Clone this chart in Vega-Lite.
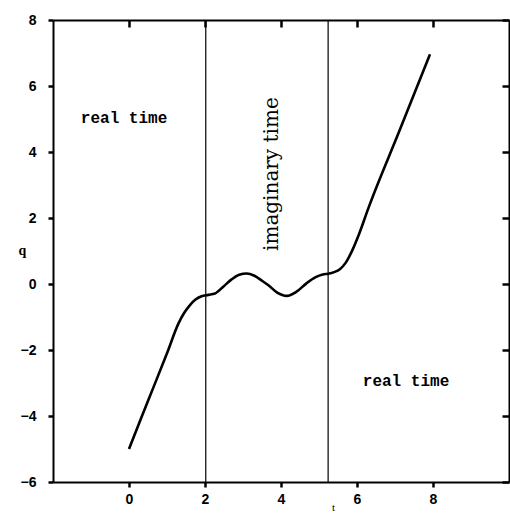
{
  "$schema": "https://vega.github.io/schema/vega-lite/v6.json",
  "width": 456,
  "height": 462,
  "autosize": "none",
  "padding": {"left": 53, "top": 20, "right": 1, "bottom": 32},
  "background": "white",
  "config": {
    "view": {"stroke": null},
    "axis": {
      "grid": false,
      "domainColor": "black",
      "domainWidth": 2,
      "labelFont": "Liberation Sans",
      "labelFontWeight": "bold",
      "labelFontSize": 14,
      "labelColor": "black"
    }
  },
  "datasets": {
    "curve": [
      {"t": 0.0, "q": -5.0},
      {"t": 0.3, "q": -4.12},
      {"t": 0.64, "q": -3.14},
      {"t": 1.0, "q": -2.1},
      {"t": 1.3, "q": -1.2},
      {"t": 1.45, "q": -0.88},
      {"t": 1.61, "q": -0.63},
      {"t": 1.75, "q": -0.47},
      {"t": 1.91, "q": -0.37},
      {"t": 2.09, "q": -0.33},
      {"t": 2.26, "q": -0.29},
      {"t": 2.48, "q": -0.08},
      {"t": 2.7, "q": 0.14},
      {"t": 2.9, "q": 0.28},
      {"t": 3.1, "q": 0.32},
      {"t": 3.3, "q": 0.25},
      {"t": 3.5, "q": 0.1},
      {"t": 3.67, "q": -0.04},
      {"t": 3.9, "q": -0.26},
      {"t": 4.15, "q": -0.36},
      {"t": 4.4, "q": -0.24},
      {"t": 4.67, "q": 0.02},
      {"t": 4.9, "q": 0.2},
      {"t": 5.1, "q": 0.29},
      {"t": 5.24, "q": 0.31},
      {"t": 5.4, "q": 0.36},
      {"t": 5.55, "q": 0.45},
      {"t": 5.7, "q": 0.64},
      {"t": 5.86, "q": 0.98},
      {"t": 6.05, "q": 1.5},
      {"t": 6.3, "q": 2.3},
      {"t": 7.13, "q": 4.68},
      {"t": 7.92, "q": 6.96}
    ],
    "dividers": [
      {"t": 2.02},
      {"t": 5.24}
    ],
    "labels": [
      {"t": -0.13, "q": 5.03, "label": "real time"},
      {"t": 7.29, "q": -2.94, "label": "real time"}
    ],
    "vlabels": [
      {"t": 3.76, "q": 3.33, "label": "imaginary time"}
    ]
  },
  "layer": [
    {
      "data": {"name": "curve"},
      "mark": {"type": "line", "color": "black", "strokeWidth": 2.6, "interpolate": "monotone"},
      "encoding": {
        "x": {
          "field": "t", "type": "quantitative",
          "scale": {"domain": [-2, 10], "nice": false, "zero": false},
          "axis": {
            "orient": "bottom",
            "values": [0, 2, 4, 6, 8],
            "ticks": true,
            "tickSize": 5,
            "tickWidth": 2.5,
            "tickColor": "black",
            "labelPadding": 5,
            "title": "t",
            "titleFont": "Liberation Serif",
            "titleFontWeight": "normal",
            "titleFontSize": 11,
            "titleX": 280,
            "titleY": 19,
            "titleBaseline": "top",
            "titleAlign": "center"
          }
        },
        "y": {
          "field": "q", "type": "quantitative",
          "scale": {"domain": [-6, 8], "nice": false, "zero": false},
          "axis": {
            "orient": "left",
            "values": [-6, -4, -2, 0, 2, 4, 6, 8],
            "ticks": true,
            "tickSize": 5,
            "tickWidth": 2.5,
            "tickColor": "black",
            "labelPadding": 12,
            "title": "q",
            "titleFont": "Liberation Serif",
            "titleFontWeight": "bold",
            "titleFontSize": 14,
            "titleAngle": 0,
            "titleX": -31,
            "titleY": 230,
            "titleAlign": "center",
            "titleBaseline": "middle"
          }
        }
      }
    },
    {
      "data": {"name": "dividers"},
      "mark": {"type": "rule", "color": "black", "strokeWidth": 1.2},
      "encoding": {
        "x": {
          "field": "t", "type": "quantitative",
          "axis": {"orient": "top", "values": [0, 2, 4, 6, 8], "ticks": true, "tickSize": -7, "tickWidth": 2.5, "tickColor": "black", "labels": false, "title": null, "zindex": 1}
        }
      }
    },
    {
      "data": {"name": "labels"},
      "mark": {"type": "text", "font": "Liberation Mono", "fontWeight": "bold", "fontSize": 16, "color": "black", "align": "center", "baseline": "middle"},
      "encoding": {
        "x": {"field": "t", "type": "quantitative", "axis": null},
        "y": {
          "field": "q", "type": "quantitative",
          "axis": {"orient": "right", "values": [-6, -4, -2, 0, 2, 4, 6, 8], "ticks": true, "tickSize": -7, "tickWidth": 2.5, "tickColor": "black", "labels": false, "title": null}
        },
        "text": {"field": "label"}
      }
    },
    {
      "data": {"name": "vlabels"},
      "mark": {"type": "text", "font": "DejaVu Serif", "fontWeight": "normal", "fontSize": 20, "color": "black", "align": "center", "baseline": "middle", "angle": 270},
      "encoding": {
        "x": {"field": "t", "type": "quantitative", "axis": null},
        "y": {"field": "q", "type": "quantitative", "axis": null},
        "text": {"field": "label"}
      }
    }
  ],
  "resolve": {"axis": {"x": "independent", "y": "independent"}}
}
